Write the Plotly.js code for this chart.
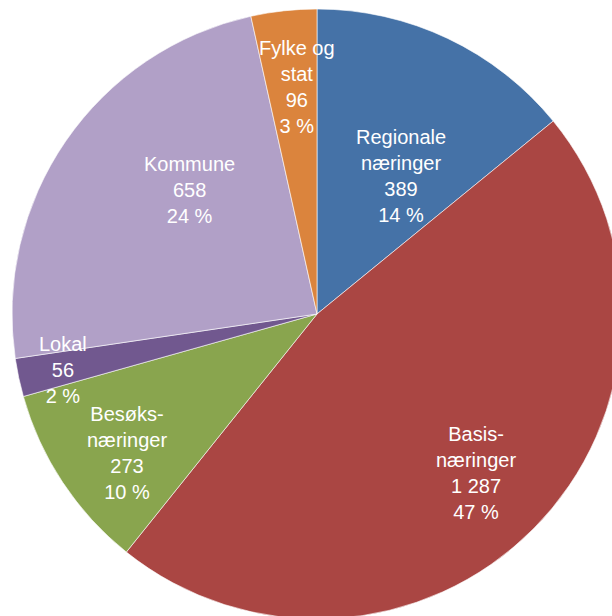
<!DOCTYPE html>
<html>
<head>
<meta charset="utf-8">
<script src="https://cdn.plot.ly/plotly-3.0.1.min.js"></script>
<style>
html, body { margin: 0; padding: 0; overflow: hidden; background: #fff; }
#chart { width: 634px; height: 628px; }
</style>
</head>
<body>
<div id="chart"></div>
<script>
// Data
var categories = ["Regionale næringer", "Basisnæringer", "Besøksnæringer", "Lokal", "Kommune", "Fylke og stat"];
var labelLines = ["Regionale<br>næringer", "Basis-<br>næringer", "Besøks-<br>næringer", "Lokal", "Kommune", "Fylke og<br>stat"];
var values = [389, 1287, 273, 56, 658, 96];
var colors = ["#4572A7", "#AA4643", "#89A54E", "#71588F", "#B1A0C7", "#DB843D"];

// Label positions (pixel centres in the picture)
var labelPos = [[401, 176], [476, 473], [127, 453], [63, 370], [189, 190], [297, 87]];

var W = 634, H = 628, ML = 12, MR = 12, MT = 9, MB = 9;
var PW = W - ML - MR, PH = H - MT - MB;

function fmt(n) {
  return String(n).replace(/\B(?=(\d{3})+(?!\d))/g, " ");
}
var total = values.reduce(function (a, b) { return a + b; }, 0);

var annotations = categories.map(function (c, i) {
  var pct = Math.round(values[i] / total * 100);
  return {
    text: labelLines[i] + "<br>" + fmt(values[i]) + "<br>" + pct + " %",
    xref: "paper", yref: "paper",
    x: (labelPos[i][0] - ML) / PW,
    y: 1 - (labelPos[i][1] - MT) / PH,
    xanchor: "center", yanchor: "middle",
    showarrow: false,
    align: "center",
    font: { family: "Liberation Sans, Arial, sans-serif", size: 20, color: "#ffffff" }
  };
});

var trace = {
  type: "pie",
  labels: categories,
  values: values,
  sort: false,
  direction: "clockwise",
  rotation: 0,
  textinfo: "none",
  hoverinfo: "none",
  marker: { colors: colors, line: { color: "#ffffff", width: 0.6 } },
  domain: { x: [0, 1], y: [0, 1] }
};

var layout = {
  width: W, height: H,
  margin: { l: ML, r: MR, t: MT, b: MB, pad: 0 },
  showlegend: false,
  paper_bgcolor: "#ffffff",
  plot_bgcolor: "#ffffff",
  annotations: annotations
};

Plotly.newPlot("chart", [trace], layout, { displayModeBar: false, staticPlot: true });
</script>
</body>
</html>
